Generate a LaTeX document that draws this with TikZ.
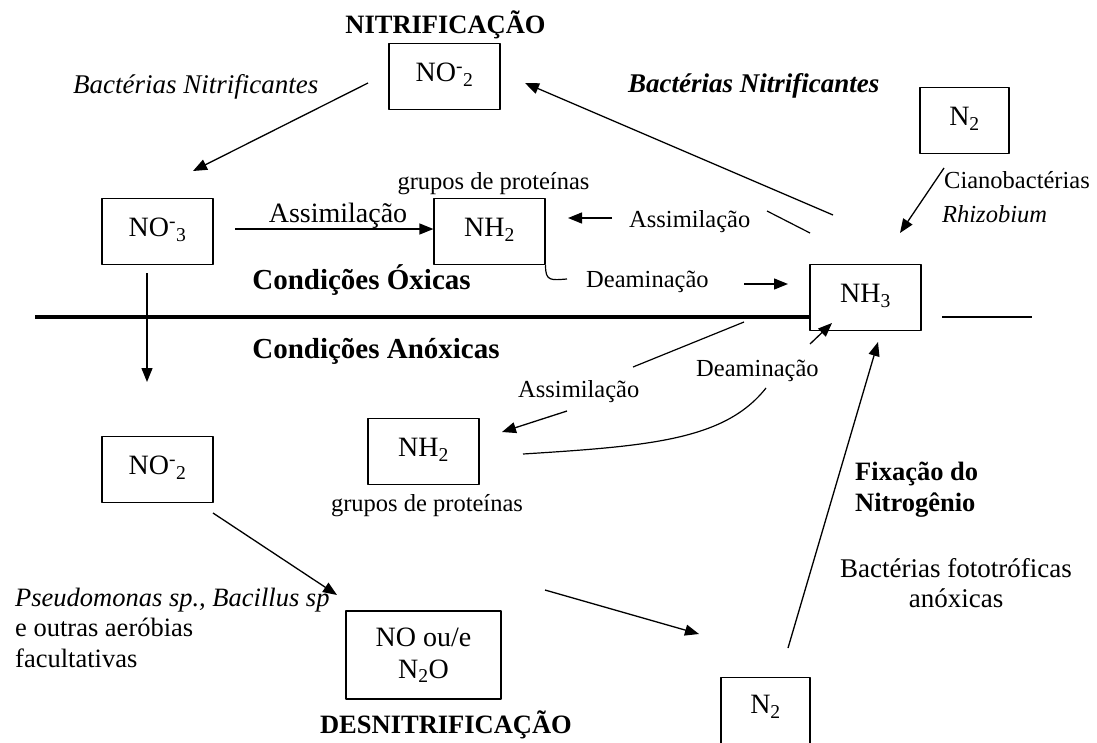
\documentclass[tikz,border=0pt]{standalone}
\usepackage{fontspec}
\setmainfont{Liberation Serif}
\usetikzlibrary{arrows.meta}
\tikzset{
  box/.style={draw, line width=1.2pt, anchor=north, minimum width=111pt, inner xsep=0pt, inner ysep=0pt,
    text height=38pt, text depth=28pt, font=\fontsize{28}{32}\selectfont},
  lbl/.style={inner sep=0pt, anchor=base west, font=\fontsize{24.5}{28}\selectfont},
  head/.style={inner sep=0pt, anchor=base, font=\fontsize{26.5}{30}\selectfont\bfseries},
  cond/.style={inner sep=0pt, anchor=base, font=\fontsize{29}{32}\selectfont\bfseries},
  arr/.style={line width=1.3pt, -{Triangle[length=14pt,width=11pt]}},
  ln/.style={line width=1.2pt},
}
\begin{document}
\begin{tikzpicture}[x=1pt, y=-1pt, line join=round]
\useasboundingbox (0,0) rectangle (1097,742);
%%%%%%%%%%%%%%%%%%%%%%%%%%%%%%%%%
\node[box] (no2a) at (444.5,43) {NO\textsuperscript{-}\textsubscript{2}};
\node[box] (no3) at (157.5,198) {NO\textsuperscript{-}\textsubscript{3}};
\node[box] (nh2a) at (489.5,198) {NH\textsubscript{2}};
\node[box] (nh3) at (865.5,264) {NH\textsubscript{3}};
\node[box, minimum width=89pt] (n2a) at (964.5,87) {N\textsubscript{2}};
\node[box] (nh2b) at (423.5,418) {NH\textsubscript{2}};
\node[box] (no2b) at (157.5,436) {NO\textsuperscript{-}\textsubscript{2}};
\node[draw, line width=1.2pt, minimum width=155pt, minimum height=88pt, align=center,
  font=\fontsize{28}{32}\selectfont] (nox) at (423.5,655) {NO ou/e\\N\textsubscript{2}O};
\node[box, minimum width=89pt, text height=36pt, text depth=34pt] (n2b) at (765.5,677) {N\textsubscript{2}};
%%%%%%%%%%%%%%%%%%%%%%%%%%%%%%%%%
\node[head] (nitri) at (445.5,33) {NITRIFICAÇÃO};
\node[head] (desni) at (446,733) {DESNITRIFICAÇÃO};
\node[cond] (oxi) at (361.5,289) {Condições Óxicas};
\node[cond] (anoxi) at (376,358) {Condições Anóxicas};
\node[lbl, font=\fontsize{27}{30}\selectfont\itshape] (bnl) at (73,93) {Bactérias Nitrificantes};
\node[lbl, font=\fontsize{27}{30}\selectfont\bfseries\itshape] (bnr) at (628,92) {Bactérias Nitrificantes};
\node[lbl, anchor=base] (gpa) at (493.5,189) {grupos de proteínas};
\node[lbl, anchor=base] (gpb) at (427,511) {grupos de proteínas};
\node[lbl, anchor=base, font=\fontsize{28}{32}\selectfont] (assa) at (338,222) {Assimilação};
\node[lbl] (assb) at (629,227) {Assimilação};
\node[lbl] (assc) at (518,397) {Assimilação};
\node[lbl] (deaa) at (586,287) {Deaminação};
\node[lbl] (deab) at (696,376) {Deaminação};
\node[lbl] (ciano) at (944,188) {Cianobactérias};
\node[lbl, font=\fontsize{24.5}{28}\selectfont\itshape] (rhizo) at (942,222) {Rhizobium};
% multi-line nodes: base = last line
\node[lbl, align=left, font=\fontsize{26.5}{30.5}\selectfont] (pseudo) at (15,667)
  {\textit{Pseudomonas sp., Bacillus sp}\\e outras aeróbias\\facultativas};
\node[lbl, align=left, font=\fontsize{26.5}{31}\selectfont\bfseries] (fixa) at (855,511) {Fixação do\\Nitrogênio};
\node[lbl, anchor=base, align=center, font=\fontsize{27}{30}\selectfont] (foto) at (956,607)
  {Bactérias fototróficas\\anóxicas};
%%%%%%%%%%%%%%%%%%%%%%%%%%%%%%%%%
\coordinate (a1s) at (368,83);  \coordinate (a1e) at (193,171);
\coordinate (a2s) at (833,215); \coordinate (a2e) at (525,83);
\coordinate (a3s) at (944,168); \coordinate (a3e) at (900,233);
\coordinate (a4s) at (235,229);
\coordinate (a5s) at (612,218); \coordinate (a5e) at (568,218);
\coordinate (l1s) at (767,211); \coordinate (l1e) at (810,233);
\coordinate (hke) at (567,279);
\coordinate (a6s) at (744,284); \coordinate (a6e) at (788,284);
\coordinate (a7s) at (147,273); \coordinate (a7e) at (147,382);
\coordinate (l2s) at (744,322); \coordinate (l2e) at (633,367);
\coordinate (a8s) at (567,411); \coordinate (a8e) at (502,432);
\coordinate (c2s) at (523,454); \coordinate (c2e) at (766,388);
\coordinate (a9s) at (810,344); \coordinate (a9e) at (832,323);
\coordinate (a10s) at (213,513); \coordinate (a10e) at (337,595);
\coordinate (a11s) at (545,590); \coordinate (a11e) at (699,634);
\coordinate (a12s) at (788,648); \coordinate (a12e) at (878,342);
\coordinate (hl1) at (35,317); \coordinate (hl2) at (810,317);
\coordinate (sl1) at (942,317); \coordinate (sl2) at (1032,317);
%%%%%%%%%%%%%%%%%%%%%%%%%%%%%%%%%
\draw[line width=4pt] (hl1) -- (hl2);
\draw[ln] (sl1) -- (sl2);
\draw[arr] (a1s) -- (a1e);
\draw[arr] (a2s) -- (a2e);
\draw[arr] (a3s) -- (a3e);
\draw[arr] (a4s) -- (a4s -| nh2a.west);
\draw[arr] (a5s) -- (a5e);
\draw[ln] (l1s) -- (l1e);
\draw[ln] (nh2a.south east) .. controls (545,282) and (552,280) .. (hke);
\draw[arr] (a6s) -- (a6e);
\draw[arr] (a7s) -- (a7e);
\draw[ln] (l2s) -- (l2e);
\draw[arr] (a8s) -- (a8e);
\draw[ln] (c2s) .. controls (650,446) and (725,440) .. (c2e);
\draw[arr] (a9s) -- (a9e);
\draw[arr] (a10s) -- (a10e);
\draw[arr] (a11s) -- (a11e);
\draw[arr] (a12s) -- (a12e);
\end{tikzpicture}
\end{document}
